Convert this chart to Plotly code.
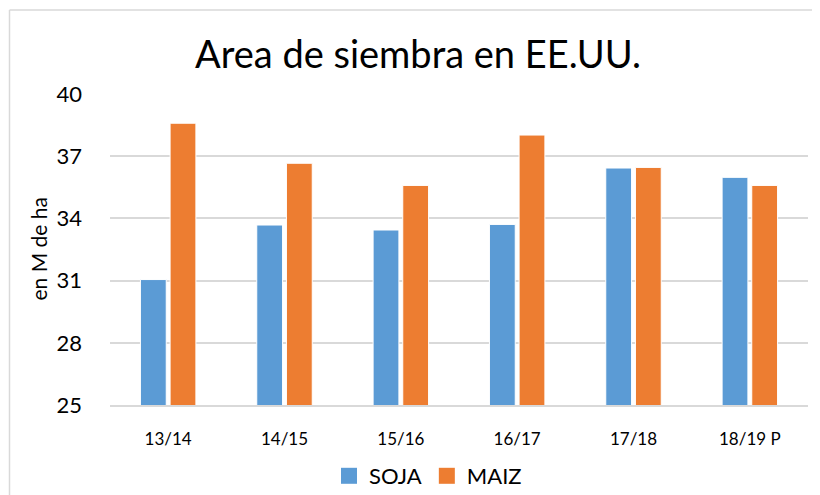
import plotly.graph_objects as go

categories = ["13/14", "14/15", "15/16", "16/17", "17/18", "18/19 P"]
soja = [31.05, 33.68, 33.44, 33.71, 36.43, 35.98]
maiz = [38.59, 36.66, 35.59, 38.02, 36.46, 35.59]
y_ticks = [25, 28, 31, 34, 37, 40]
series_names = ["SOJA", "MAIZ"]
colors = ["#5B9BD5", "#ED7D31"]

FONT = "Lato"

fig = go.Figure()
for name, vals, col in zip(series_names, [soja, maiz], colors):
    fig.add_trace(go.Bar(name=name, x=categories, y=vals, showlegend=False,
                         marker=dict(color=col, line=dict(color="#ffffff", width=1))))
# legend entries with larger square markers
for name, col in zip(series_names, colors):
    fig.add_trace(go.Scatter(name=name, x=[None], y=[None], mode="markers",
                             marker=dict(symbol="square", size=17, color=col),
                             showlegend=True))

# page body has an 8px margin, so figure coords = screen coords - 8;
# figure sized so the page does not overflow the 820x495 window
W, H = 812, 487
L, R, T, B = 102, 12, 86, 90
pw, ph = W - L - R, H - T - B

fig.update_layout(
    width=W, height=H,
    margin=dict(l=L, r=R, t=T, b=B, autoexpand=False),
    paper_bgcolor="white", plot_bgcolor="white",
    barmode="group", bargap=0.49, bargroupgap=0.13,
    font=dict(family=FONT, color="#000000"),
    title=dict(text="Area de siembra en EE.UU.", x=410 / W, xanchor="center",
               y=1 - 47 / H, yanchor="middle",
               font=dict(size=38, family=FONT, color="#000000")),
    xaxis=dict(showgrid=False, showline=True, linecolor="#d9d9d9", linewidth=1.5,
               tickfont=dict(size=17), ticks="", ticklabelstandoff=18, automargin=False),
    yaxis=dict(range=[25, 40], tickvals=y_ticks, showgrid=True,
               gridcolor="#d9d9d9", gridwidth=1.5, zeroline=False, showline=False,
               tickfont=dict(size=22), ticklabelstandoff=27, automargin=False),
    legend=dict(orientation="h", x=(420 - L) / pw, xanchor="center", y=-(468 - 397) / ph,
                yanchor="middle", font=dict(size=22), traceorder="normal", itemwidth=30),
    showlegend=True,
)

# y-axis title
fig.add_annotation(text="en M de ha", xref="paper", yref="paper",
                   x=(30 - L) / pw, y=0.5, xanchor="center", yanchor="middle",
                   textangle=-90, showarrow=False, font=dict(size=21, family=FONT))

# chart border: only left and top edges are visible in the reference
bx = (1.5 - L) / pw
by = 1 + (T - 2) / ph
fig.add_shape(type="line", xref="paper", yref="paper",
              x0=bx, x1=bx, y0=by, y1=-(B + 30) / ph,
              line=dict(color="#d9d9d9", width=1.5), layer="below")
fig.add_shape(type="line", xref="paper", yref="paper",
              x0=bx, x1=1 + (R + 30) / pw, y0=by, y1=by,
              line=dict(color="#d9d9d9", width=1.5), layer="below")

fig.write_html("out.html")
